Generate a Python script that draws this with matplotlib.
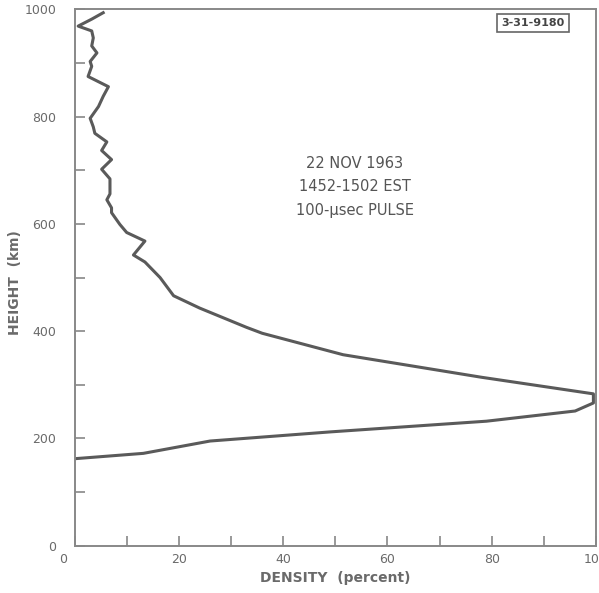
import matplotlib
matplotlib.use("Agg")
import matplotlib.pyplot as plt
import matplotlib.transforms as mtransforms

# electron density profile (top of profile down to bottom side)
density = [5.5, 3.3, 0.7, 3.3, 3.6, 3.3, 4.3, 3.0, 3.3, 2.6, 6.5, 5.5, 4.6, 3.0,
           3.6, 3.9, 6.2, 5.2, 7.1, 5.2, 6.8, 6.8, 6.2, 7.1, 7.1, 8.7, 10.0, 13.5,
           11.3, 13.5, 16.4, 19.0, 24.0, 33.0, 36.0, 51.5, 78.0, 99.5, 99.5, 96.0,
           79.0, 49.0, 26.0, 13.2, 0.0]
height = [994, 982, 969, 960, 947, 932, 919, 903, 894, 875, 856, 838, 819, 797,
          781, 769, 753, 737, 720, 702, 684, 656, 645, 630, 621, 599, 584, 568,
          542, 529, 500, 466, 443, 407, 396, 356, 314, 283, 266, 251,
          232, 212, 195, 172, 162]

x_ticks = [0, 20, 40, 60, 80, 100]
y_ticks = [0, 200, 400, 600, 800, 1000]
notes = ["22 NOV 1963", "1452-1502 EST", "100-\u00b5sec PULSE"]
fig_id = "3-31-9180"

grey = "#5a5a5a"
text_grey = "#6a6a6a"

fig = plt.figure(figsize=(5.99, 5.93), dpi=100)
ax = fig.add_axes([0.1244, 0.080, 0.8706, 0.904])

ax.plot(density, height, color=grey, lw=2.2, solid_joinstyle="round")

ax.set_xlim(0, 100)
ax.set_ylim(0, 1000)
ax.set_xticks(range(0, 101, 10))
ax.set_xticklabels([str(v) if v in x_ticks else "" for v in range(0, 101, 10)])
ax.set_yticks(range(0, 1001, 100))
ax.set_yticklabels([str(v) if v in y_ticks else "" for v in range(0, 1001, 100)])
ax.tick_params(direction="in", length=7, width=1.2, color="#888888",
               labelcolor=text_grey, labelsize=9)
ax.tick_params(axis="x", pad=5)
ax.tick_params(axis="y", pad=13)
for s in ax.spines.values():
    s.set_color("#888888")
    s.set_linewidth(1.4)

# the "0" on the density axis sits left of its tick in the original
zero_lab = ax.get_xticklabels()[0]
zero_lab.set_transform(zero_lab.get_transform() +
                       mtransforms.ScaledTranslation(-11 / 100, 0, fig.dpi_scale_trans))

ax.set_xlabel("DENSITY  (percent)", color=text_grey, fontsize=10,
              fontweight="bold", labelpad=4)
ax.set_ylabel("HEIGHT  (km)", color=text_grey, fontsize=10, fontweight="bold")
ax.yaxis.set_label_coords(-0.1, 0.49)

for i, t in enumerate(notes):
    fig.text(355 / 599, 1 - (163 + 23.5 * i) / 593, t, ha="center", va="center",
             fontsize=10.5, color="#555555")

fig.text(533 / 599, 1 - 23 / 593, fig_id, ha="center", va="center", fontsize=8,
         fontweight="bold", color="#444444",
         bbox=dict(boxstyle="square,pad=0.4", fc="white", ec="#666666", lw=1.2))

fig.savefig("out.png", dpi=100)
